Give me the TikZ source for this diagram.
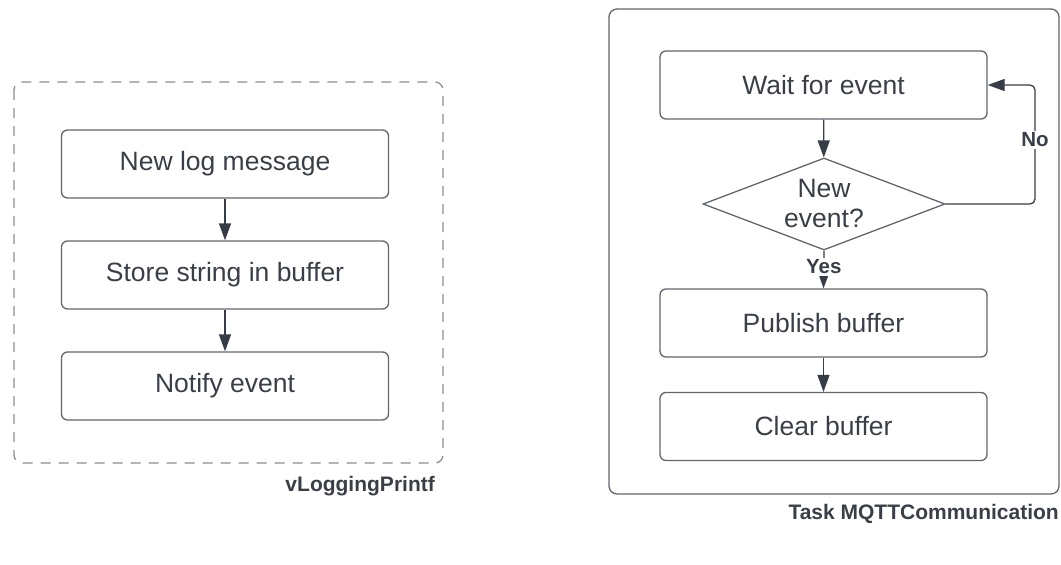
\documentclass[tikz,border=0pt]{standalone}
\usepackage{fontspec}
\setmainfont{Liberation Sans}
\usetikzlibrary{arrows.meta,shapes.geometric}
\definecolor{txt}{HTML}{3A3F47}
\definecolor{edge}{HTML}{61666D}
\definecolor{dashgray}{HTML}{8A8E94}
\definecolor{arr}{HTML}{373D46}
\tikzset{
  stepbox/.style={draw=edge, line width=1.3pt, rounded corners=6pt, minimum width=327pt,
    minimum height=68pt, inner sep=0pt, text=txt, font=\fontsize{26.5}{31}\selectfont},
  decision/.style={draw=edge, line width=1.3pt, diamond, aspect=2.63, minimum width=242pt,
    minimum height=92pt, inner sep=0pt, text=txt, align=center, font=\fontsize{26.5}{30}\selectfont},
  flow/.style={draw=arr, line width=1.3pt, -{Triangle[length=17pt,width=12pt]}},
  grouplabel/.style={text=txt, font=\bfseries\fontsize{21}{25}\selectfont, inner sep=0pt},
  branch/.style={text=txt, font=\bfseries\fontsize{20.5}{24}\selectfont, fill=white, inner sep=2pt},
}
\begin{document}
\begin{tikzpicture}[x=1pt,y=-1pt]
\useasboundingbox (0,0) rectangle (1061,565);

% vLoggingPrintf group
\draw[draw=dashgray, line width=1.3pt, dash pattern=on 10pt off 8pt, rounded corners=8pt]
  (14,82) rectangle (443,463);
\node[grouplabel, anchor=east] (lgA) at (435,486) {vLoggingPrintf};
\node[stepbox] (msg) at (225,164) {New log message};
\node[stepbox] (store) at (225,275) {Store string in buffer};
\node[stepbox] (notify) at (225,386) {Notify event};
\draw[flow] (msg) -- (store);
\draw[flow] (store) -- (notify);

% MQTT task group
\draw[draw=edge, line width=1.3pt, rounded corners=8pt] (609,9) rectangle (1059,494);
\node[grouplabel, anchor=east] (lgB) at (1059,514) {Task MQTTCommunication};
\node[stepbox] (wait) at (823.5,85) {Wait for event};
\node[decision] (evt) at (824,204) {New\\event?};
\node[stepbox] (pub) at (823.5,323) {Publish buffer};
\node[stepbox] (clr) at (823.5,426.5) {Clear buffer};
\coordinate (loopA) at (1035,204);
\coordinate (loopB) at (1035,85);
\draw[flow] (wait) -- (evt);
\draw[flow] (evt.south) -- node[branch, pos=0.43] (yes) {Yes} (pub.north);
\draw[flow, rounded corners=5pt] (evt.east) -- (loopA) -- (loopB) -- (wait.east);
\node[branch] (no) at (1035,140) {No};
\draw[flow] (pub) -- (clr);
\end{tikzpicture}
\end{document}
